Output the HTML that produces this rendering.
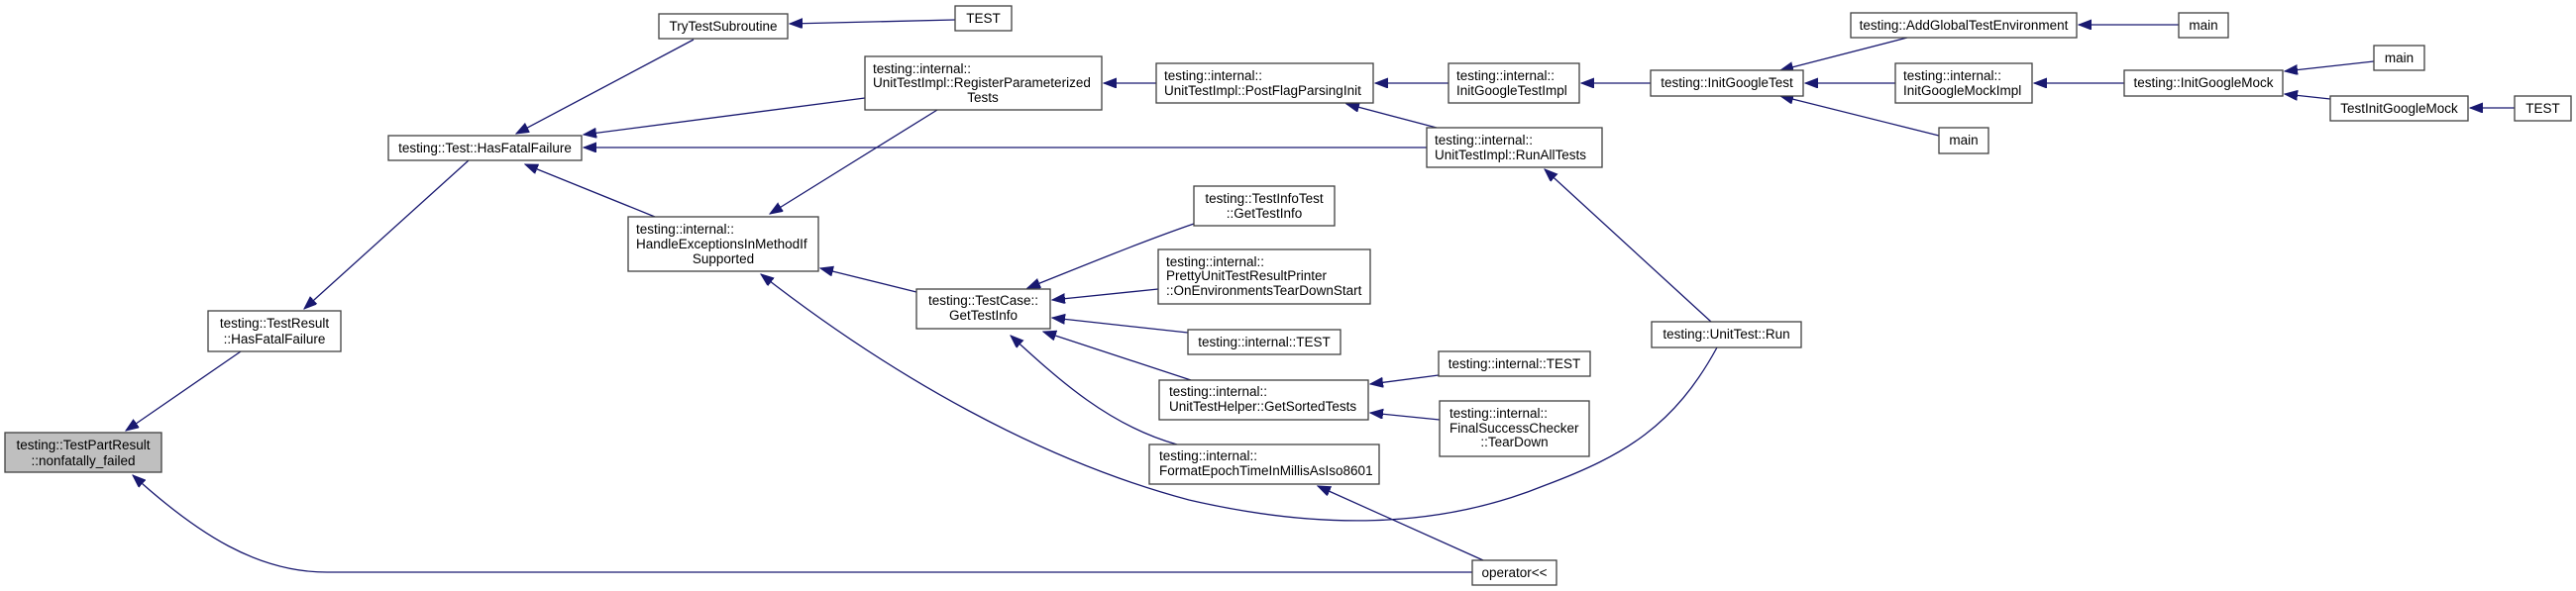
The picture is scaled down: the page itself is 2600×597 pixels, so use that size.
<!DOCTYPE html>
<html><head><meta charset="utf-8"><style>
html,body{margin:0;padding:0;background:#fff;}
svg{display:block;}
text{font-family:"Liberation Sans",sans-serif;font-size:13.5px;fill:#000;}
.n{fill:#fff;stroke:#404040;stroke-width:1.3;}
.e{fill:none;stroke:#191970;stroke-width:1.3;}
</style></head><body>
<svg width="2600" height="597" viewBox="0 0 2600 597" xmlns="http://www.w3.org/2000/svg">
<defs><marker id="a" markerUnits="userSpaceOnUse" markerWidth="14" markerHeight="11" refX="13" refY="5" orient="auto"><path d="M0,0 L13,5 L0,10 z" fill="#191970" stroke="#191970"/></marker></defs>
<g marker-end="url(#a)">
<path class="e" d="M243,355 L127,435"/>
<path class="e" d="M473,162 L307,312"/>
<path class="e" d="M1486,578 L330,578 C260,578 200,540 134,480"/>
<path class="e" d="M700,40 L521,135"/>
<path class="e" d="M873,99 L589,136"/>
<path class="e" d="M1440,149 L589,149"/>
<path class="e" d="M661,219 L530,166"/>
<path class="e" d="M964,20 L797,24"/>
<path class="e" d="M946,111 L777,216"/>
<path class="e" d="M925,295 L828,271"/>
<path class="e" d="M1733,351 C1690,430 1640,460 1560,490 C1450,535 1330,535 1200,505 C1050,465 900,380 768,277"/>
<path class="e" d="M1167,84 L1114,84"/>
<path class="e" d="M1462,84 L1388,84"/>
<path class="e" d="M1450,129 L1359,105"/>
<path class="e" d="M1666,84 L1596,84"/>
<path class="e" d="M1925,38 L1797,71"/>
<path class="e" d="M1913,84 L1822,84"/>
<path class="e" d="M1957,137 L1797,97"/>
<path class="e" d="M2199,25 L2098,25"/>
<path class="e" d="M2144,84 L2053,84"/>
<path class="e" d="M2396,62 L2306,72"/>
<path class="e" d="M2352,100 L2306,95"/>
<path class="e" d="M2538,109 L2493,109"/>
<path class="e" d="M1727,325 L1559,171"/>
<path class="e" d="M1205,226 C1150,245 1090,270 1037,291"/>
<path class="e" d="M1169,292 L1062,303"/>
<path class="e" d="M1199,336 L1062,321"/>
<path class="e" d="M1202,384 L1053,335"/>
<path class="e" d="M1188,449 C1120,430 1070,385 1020,339"/>
<path class="e" d="M1452,379 L1383,388"/>
<path class="e" d="M1453,424 L1383,417"/>
<path class="e" d="M1497,566 L1330,491"/>
</g>
<rect class="n" x="5" y="437" width="158" height="40" style="fill:#bfbfbf"/>
<text x="84" y="454" text-anchor="middle">testing::TestPartResult</text><text x="84" y="470" text-anchor="middle">::nonfatally_failed</text>
<rect class="n" x="210" y="314" width="134" height="41"/>
<text x="277" y="331" text-anchor="middle">testing::TestResult</text><text x="277" y="347" text-anchor="middle">::HasFatalFailure</text>
<rect class="n" x="392" y="137" width="195" height="25"/><text x="489.5" y="154" text-anchor="middle">testing::Test::HasFatalFailure</text>
<rect class="n" x="665" y="14" width="130" height="25"/><text x="730" y="31" text-anchor="middle">TryTestSubroutine</text>
<rect class="n" x="964" y="6" width="57" height="25"/><text x="992.5" y="23" text-anchor="middle">TEST</text>
<rect class="n" x="634" y="219" width="192" height="55"/>
<text x="642" y="236">testing::internal::</text><text x="642" y="251">HandleExceptionsInMethodIf</text><text x="730" y="266" text-anchor="middle">Supported</text>
<rect class="n" x="873" y="57" width="239" height="54"/>
<text x="881" y="74">testing::internal::</text><text x="881" y="88">UnitTestImpl::RegisterParameterized</text><text x="992" y="103" text-anchor="middle">Tests</text>
<rect class="n" x="1167" y="64" width="219" height="40"/>
<text x="1175" y="81">testing::internal::</text><text x="1175" y="96">UnitTestImpl::PostFlagParsingInit</text>
<rect class="n" x="1205" y="188" width="142" height="40"/>
<text x="1276" y="205" text-anchor="middle">testing::TestInfoTest</text><text x="1276" y="220" text-anchor="middle">::GetTestInfo</text>
<rect class="n" x="1169" y="252" width="214" height="55"/>
<text x="1177" y="269">testing::internal::</text><text x="1177" y="283">PrettyUnitTestResultPrinter</text><text x="1177" y="298">::OnEnvironmentsTearDownStart</text>
<rect class="n" x="925" y="292" width="135" height="40"/>
<text x="992.5" y="308" text-anchor="middle">testing::TestCase::</text><text x="992.5" y="323" text-anchor="middle">GetTestInfo</text>
<rect class="n" x="1199" y="333" width="154" height="25"/><text x="1276" y="350" text-anchor="middle">testing::internal::TEST</text>
<rect class="n" x="1170" y="384" width="211" height="40"/>
<text x="1180" y="400">testing::internal::</text><text x="1180" y="415">UnitTestHelper::GetSortedTests</text>
<rect class="n" x="1160" y="449" width="232" height="40"/>
<text x="1170" y="465">testing::internal::</text><text x="1170" y="480">FormatEpochTimeInMillisAsIso8601</text>
<rect class="n" x="1667" y="325" width="151" height="26"/><text x="1742.5" y="342" text-anchor="middle">testing::UnitTest::Run</text>
<rect class="n" x="1452" y="355" width="153" height="25"/><text x="1528.5" y="372" text-anchor="middle">testing::internal::TEST</text>
<rect class="n" x="1453" y="405" width="151" height="56"/>
<text x="1463" y="422">testing::internal::</text><text x="1463" y="437">FinalSuccessChecker</text><text x="1528.5" y="451" text-anchor="middle">::TearDown</text>
<rect class="n" x="1486" y="566" width="85" height="25"/><text x="1528.5" y="583" text-anchor="middle">operator&lt;&lt;</text>
<rect class="n" x="1462" y="64" width="132" height="40"/>
<text x="1470" y="81">testing::internal::</text><text x="1470" y="96">InitGoogleTestImpl</text>
<rect class="n" x="1440" y="129" width="177" height="40"/>
<text x="1448" y="146">testing::internal::</text><text x="1448" y="161">UnitTestImpl::RunAllTests</text>
<rect class="n" x="1666" y="71" width="154" height="26"/><text x="1743" y="88" text-anchor="middle">testing::InitGoogleTest</text>
<rect class="n" x="1868" y="13" width="228" height="25"/><text x="1982" y="30" text-anchor="middle">testing::AddGlobalTestEnvironment</text>
<rect class="n" x="2199" y="13" width="50" height="25"/><text x="2224" y="30" text-anchor="middle">main</text>
<rect class="n" x="1913" y="64" width="138" height="40"/>
<text x="1921" y="81">testing::internal::</text><text x="1921" y="96">InitGoogleMockImpl</text>
<rect class="n" x="2144" y="71" width="160" height="26"/><text x="2224" y="88" text-anchor="middle">testing::InitGoogleMock</text>
<rect class="n" x="2396" y="46" width="51" height="25"/><text x="2421.5" y="63" text-anchor="middle">main</text>
<rect class="n" x="2352" y="97" width="139" height="25"/><text x="2421.5" y="114" text-anchor="middle">TestInitGoogleMock</text>
<rect class="n" x="2538" y="97" width="57" height="25"/><text x="2566.5" y="114" text-anchor="middle">TEST</text>
<rect class="n" x="1957" y="129" width="50" height="26"/><text x="1982" y="146" text-anchor="middle">main</text>
</svg>
</body></html>
